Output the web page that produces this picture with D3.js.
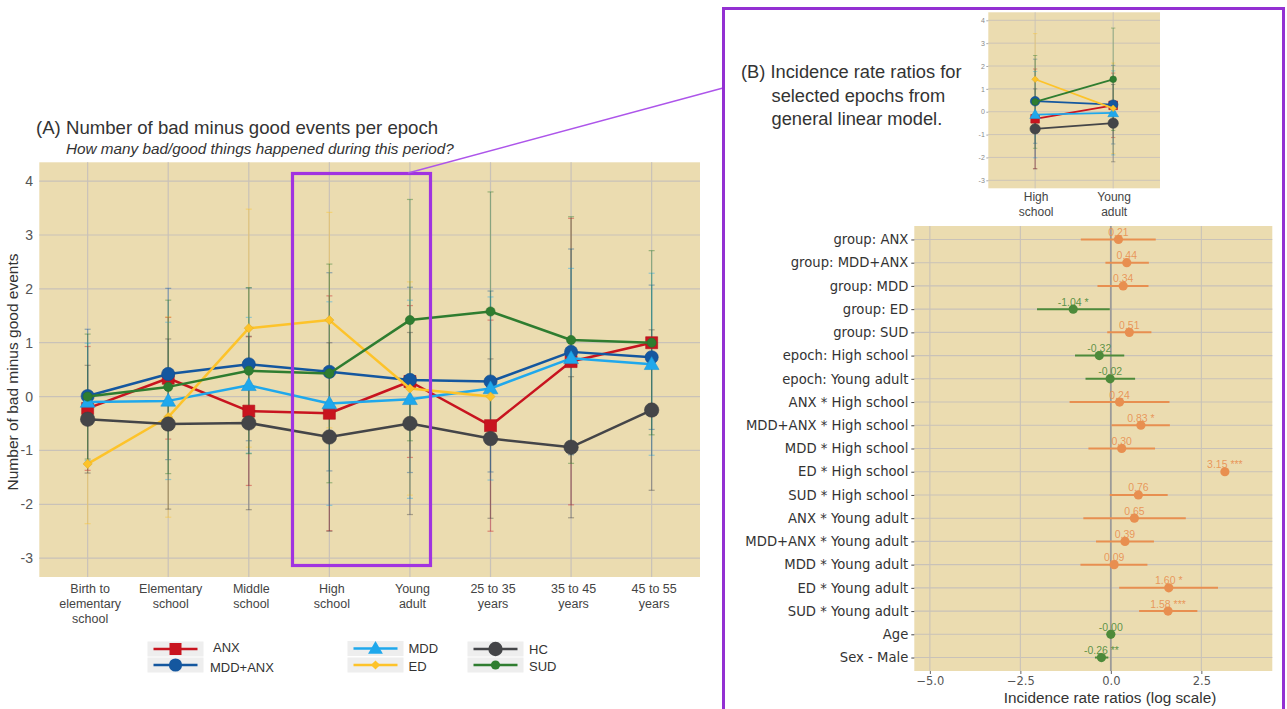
<!DOCTYPE html>
<html>
<head>
<meta charset="utf-8">
<script src="https://cdn.jsdelivr.net/npm/d3@7"></script>
<style>
  body { margin: 0; background: #ffffff; }
  svg { display: block; }
</style>
</head>
<body>
<svg id="chart" width="1287" height="709"></svg>
<script>
// ---------- Panel A data: mean (and SD) of bad minus good events per epoch ----------
const epochs = ["Birth to elementary school", "Elementary school", "Middle school", "High school",
                "Young adult", "25 to 35 years", "35 to 45 years", "45 to 55 years"];
const epochLabelLines = [["Birth to", "elementary", "school"], ["Elementary", "school"], ["Middle", "school"],
                         ["High", "school"], ["Young", "adult"], ["25 to 35", "years"], ["35 to 45", "years"],
                         ["45 to 55", "years"]];
const groups = ["ANX", "MDD+ANX", "MDD", "ED", "HC", "SUD"];
const yTicks = [-3, -2, -1, 0, 1, 2, 3, 4];

const meanANX    = [-0.22, 0.34, -0.27, -0.31, 0.28, -0.54, 0.65, 1.00];
const sdANX      = [1.15, 1.13, 1.38, 2.18, 1.41, 1.96, 2.66, null];
const meanMDDANX = [0.01, 0.42, 0.60, 0.46, 0.31, 0.28, 0.83, 0.73];
const sdMDDANX   = [1.24, 1.59, 1.42, 1.84, 1.72, 1.68, 1.91, 1.34];
const meanMDD    = [-0.10, -0.08, 0.21, -0.13, -0.05, 0.15, 0.71, 0.60];
const sdMDD      = [1.09, 1.46, 1.26, 1.89, 1.84, 1.70, 1.67, 1.69];
const meanED     = [-1.25, -0.38, 1.27, 1.42, 0.15, 0.00, null, null];
const sdED       = [1.11, 1.86, 2.21, 2.00, 1.98, null, null, null];
const meanHC     = [-0.42, -0.51, -0.49, -0.75, -0.50, -0.78, -0.94, -0.25];
const sdHC       = [1.00, 1.58, 1.61, 1.75, 1.69, 1.48, 1.31, 1.49];
const meanSUD    = [0.00, 0.18, 0.48, 0.43, 1.42, 1.58, 1.05, 1.00];
const sdSUD      = [1.16, 1.61, 1.54, 2.03, 2.24, 2.22, 2.29, 1.71];

// ---------- Panel B data: model coefficients (log IRR) with 95% CI ----------
const termLabels = ["group: ANX", "group: MDD+ANX", "group: MDD", "group: ED", "group: SUD",
  "epoch: High school", "epoch: Young adult", "ANX * High school", "MDD+ANX * High school",
  "MDD * High school", "ED * High school", "SUD * High school", "ANX * Young adult",
  "MDD+ANX * Young adult", "MDD * Young adult", "ED * Young adult", "SUD * Young adult",
  "Age", "Sex - Male"];
const termEstimate = [0.21, 0.44, 0.34, -1.04, 0.51, -0.32, -0.02, 0.24, 0.83, 0.30, 3.15, 0.76,
                      0.65, 0.39, 0.09, 1.60, 1.58, -0.001, -0.26];
const termLow  = [-0.83, -0.15, -0.37, -2.04, -0.10, -0.99, -0.70, -1.14, 0.02, -0.62, null, -0.03,
                  -0.76, -0.41, -0.84, 0.23, 0.78, -0.03, -0.44];
const termHigh = [1.24, 1.05, 1.04, -0.03, 1.12, 0.37, 0.67, 1.62, 1.63, 1.22, null, 1.57,
                  2.07, 1.19, 1.01, 2.96, 2.39, 0.03, -0.07];
const termStars = ["", "", "", " *", "", "", "", "", " *", "", " ***", "", "", "", "", " *", " ***", "", " **"];
const irrTicks = [-5, -2.5, 0, 2.5];

// ---------- styling ----------
const BG = "#ebdcb0";
const GRID = "#c9c2b8";
const FONT = "'Liberation Sans', Arial, sans-serif";
const groupColor = { "ANX": "#c8141f", "MDD+ANX": "#14579f", "MDD": "#1fa8ec", "ED": "#fdc32a", "HC": "#444548", "SUD": "#2f7d30" };
const groupShape = { "ANX": "square", "MDD+ANX": "circle", "MDD": "triangle", "ED": "diamond", "HC": "circle", "SUD": "circle" };
const groupSize  = { "ANX": 6, "MDD+ANX": 6.6, "MDD": 6.6, "ED": 4.6, "HC": 7.2, "SUD": 4.6 };
const POS = "#e88f50", NEG = "#4d8a3a";
const plainInt = d => String(d);

const means = [meanANX, meanMDDANX, meanMDD, meanED, meanHC, meanSUD];
const sds = [sdANX, sdMDDANX, sdMDD, sdED, sdHC, sdSUD];
const series = groups.map((g, i) => ({ name: g, mean: means[i], sd: sds[i] }));

const svg = d3.select("#chart");
svg.append("rect").attr("width", 1287).attr("height", 709).attr("fill", "#ffffff");

function markerPath(shape, r) {
  if (shape === "square") return `M${-r},${-r}h${2 * r}v${2 * r}h${-2 * r}Z`;
  if (shape === "triangle") return `M0,${-r * 1.15}L${r * 1.12},${r * 0.8}L${-r * 1.12},${r * 0.8}Z`;
  if (shape === "diamond") return `M0,${-r}L${r},0L0,${r}L${-r},0Z`;
  return d3.symbol(d3.symbolCircle, Math.PI * r * r)();
}

// Draws the grouped line chart (error bars, lines, markers) for a subset of epochs
function drawGroups(layer, x, y, idx, k) {
  const eb = layer.append("g");
  series.forEach(s => {
    idx.forEach(i => {
      const m = s.mean[i], sd = s.sd[i];
      if (m == null || sd == null) return;
      const cx = x(epochs[i]);
      const g = eb.append("g").attr("stroke", groupColor[s.name]).attr("stroke-opacity", 0.42)
        .attr("stroke-width", 1.2 * Math.max(k, 0.8));
      g.append("line").attr("x1", cx).attr("x2", cx).attr("y1", y(m - sd)).attr("y2", y(m + sd));
      [m - sd, m + sd].forEach(v => g.append("line")
        .attr("x1", cx - 3 * k).attr("x2", cx + 3 * k).attr("y1", y(v)).attr("y2", y(v)));
    });
  });
  series.forEach(s => {
    const pts = idx.filter(i => s.mean[i] != null).map(i => [x(epochs[i]), y(s.mean[i])]);
    layer.append("path").attr("d", d3.line()(pts)).attr("fill", "none")
      .attr("stroke", groupColor[s.name]).attr("stroke-width", 2.5 * k).attr("stroke-linejoin", "round");
    layer.append("g").selectAll("path").data(pts).join("path")
      .attr("transform", d => `translate(${d[0]},${d[1]})`)
      .attr("d", markerPath(groupShape[s.name], groupSize[s.name] * k))
      .attr("fill", groupColor[s.name])
      .attr("stroke", d3.color(groupColor[s.name]).darker(0.3)).attr("stroke-width", 0.6);
  });
}

// ================= Panel A =================
const xA = d3.scalePoint().domain(epochs).range([39.3, 700]).padding(0.6);
const yA = d3.scaleLinear().domain([-3.35, 4.35]).range([577, 162.3]);
const gA = svg.append("g");
gA.append("rect").attr("x", 39.3).attr("y", 162.3).attr("width", 700 - 39.3).attr("height", 577 - 162.3).attr("fill", BG);
gA.append("g").selectAll("line").data(yTicks).join("line")
  .attr("x1", 39.3).attr("x2", 700).attr("y1", d => yA(d)).attr("y2", d => yA(d))
  .attr("stroke", GRID).attr("stroke-width", 1.2);
gA.append("g").selectAll("line").data(epochs).join("line")
  .attr("x1", d => xA(d)).attr("x2", d => xA(d)).attr("y1", 162.3).attr("y2", 577)
  .attr("stroke", GRID).attr("stroke-width", 1.2);

const axA = gA.append("g").attr("transform", "translate(33,0)")
  .call(d3.axisLeft(yA).tickValues(yTicks).tickSize(0).tickPadding(0).tickFormat(plainInt));
axA.select(".domain").remove();
axA.selectAll("text").attr("font-family", FONT).attr("font-size", 14).attr("fill", "#555");

const axAx = gA.append("g").attr("transform", "translate(0,577)")
  .call(d3.axisBottom(xA).tickSize(0).tickFormat(""));
axAx.select(".domain").remove();
axAx.selectAll(".tick").each(function (d, i) {
  const t = d3.select(this).append("text").attr("font-family", FONT).attr("font-size", 12.5)
    .attr("fill", "#444").attr("text-anchor", "middle");
  epochLabelLines[i].forEach((ln, j) => t.append("tspan").attr("x", 2).attr("y", 15.5 + j * 15.3).text(ln));
});

gA.append("text").attr("transform", "translate(18,372) rotate(-90)").attr("text-anchor", "middle")
  .attr("font-family", FONT).attr("font-size", 15.5).attr("fill", "#333").text("Number of bad minus good events");

drawGroups(gA.append("g"), xA, yA, d3.range(epochs.length), 1);

gA.append("text").attr("x", 36).attr("y", 134).attr("font-family", FONT).attr("font-size", 18.6)
  .attr("fill", "#333").text("(A) Number of bad minus good events per epoch");
gA.append("text").attr("x", 66).attr("y", 154).attr("font-family", FONT).attr("font-size", 15.3)
  .attr("font-style", "italic").attr("fill", "#333").text("How many bad/good things happened during this period?");

// highlight box around the epochs shown in panel B
gA.append("rect").attr("x", 292.5).attr("y", 173.5).attr("width", 138).attr("height", 392)
  .attr("fill", "none").attr("stroke", "#a133e0").attr("stroke-width", 3.2);
svg.append("line").attr("x1", 408).attr("y1", 173).attr("x2", 723).attr("y2", 88)
  .attr("stroke", "#ad55ea").attr("stroke-width", 1.4);

// legend
const legendItems = [
  { name: "ANX", x: 147.5, y: 641.5, tx: 213, ty: 647 },
  { name: "MDD+ANX", x: 147.5, y: 657.5, tx: 210, ty: 667 },
  { name: "MDD", x: 347.5, y: 641, tx: 408.5, ty: 648.5 },
  { name: "ED", x: 347.5, y: 657.5, tx: 408.5, ty: 666.5 },
  { name: "HC", x: 467.5, y: 641.5, tx: 529, ty: 649.5 },
  { name: "SUD", x: 467.5, y: 657.5, tx: 529, ty: 666.5 }
];
const lg = svg.append("g");
legendItems.forEach(it => {
  const w = 56, h = 15, cy = it.y + h / 2;
  lg.append("rect").attr("x", it.x).attr("y", it.y).attr("width", w).attr("height", h).attr("fill", "#eeeeee");
  lg.append("line").attr("x1", it.x + 6).attr("x2", it.x + w - 6).attr("y1", cy).attr("y2", cy)
    .attr("stroke", groupColor[it.name]).attr("stroke-width", 2.4);
  lg.append("path").attr("transform", `translate(${it.x + w / 2},${cy})`)
    .attr("d", markerPath(groupShape[it.name], groupSize[it.name])).attr("fill", groupColor[it.name]);
  lg.append("text").attr("x", it.tx).attr("y", it.ty).attr("dy", "0.35em").attr("font-family", FONT)
    .attr("font-size", 13).attr("fill", "#333").text(it.name);
});

// ================= Panel B =================
svg.append("rect").attr("x", 723.5).attr("y", 8.5).attr("width", 560).attr("height", 720)
  .attr("fill", "none").attr("stroke", "#9330d2").attr("stroke-width", 3);

const titleB = svg.append("text").attr("font-family", FONT).attr("font-size", 18.3).attr("fill", "#333");
[["(B) Incidence rate ratios for", 741, 78], ["selected epochs from", 771.5, 101.5], ["general linear model.", 771.5, 124.5]]
  .forEach(([t, x, y]) => titleB.append("tspan").attr("x", x).attr("y", y).text(t));

// inset: the two highlighted epochs
const hsIdx = [3, 4];
const xI = d3.scalePoint().domain(hsIdx.map(i => epochs[i])).range([988.3, 1160]).padding(0.6);
const yI = d3.scaleLinear().domain([-3.35, 4.35]).range([188.3, 12.3]);
const gI = svg.append("g");
gI.append("rect").attr("x", 988.3).attr("y", 12.3).attr("width", 1160 - 988.3).attr("height", 176).attr("fill", BG);
gI.append("g").selectAll("line").data(yTicks).join("line")
  .attr("x1", 988.3).attr("x2", 1160).attr("y1", d => yI(d)).attr("y2", d => yI(d))
  .attr("stroke", GRID).attr("stroke-width", 0.9);
gI.append("g").selectAll("line").data(xI.domain()).join("line")
  .attr("x1", d => xI(d)).attr("x2", d => xI(d)).attr("y1", 12.3).attr("y2", 188.3)
  .attr("stroke", GRID).attr("stroke-width", 0.9);
const axI = gI.append("g").attr("transform", "translate(988.3,0)")
  .call(d3.axisLeft(yI).tickValues(yTicks).tickSize(2).tickPadding(1.5).tickFormat(plainInt));
axI.select(".domain").remove();
axI.selectAll("line").attr("stroke", "#aaa");
axI.selectAll("text").attr("font-family", FONT).attr("font-size", 7).attr("fill", "#888");
hsIdx.forEach(i => {
  const t = gI.append("text").attr("text-anchor", "middle").attr("font-family", FONT)
    .attr("font-size", 12).attr("fill", "#444");
  epochLabelLines[i].forEach((ln, j) => t.append("tspan").attr("x", xI(epochs[i]) + 1).attr("y", 201 + j * 15).text(ln));
});
drawGroups(gI.append("g"), xI, yI, hsIdx, 0.72);

// forest plot of coefficients
const xF = d3.scaleLinear().domain([-5.43, 4.46]).range([914.3, 1272.3]);
const yF = d3.scalePoint().domain(termLabels).range([226, 671]).padding(0.58);
const gF = svg.append("g");
gF.append("rect").attr("x", 914.3).attr("y", 226).attr("width", 1272.3 - 914.3).attr("height", 671 - 226).attr("fill", BG);
gF.append("g").selectAll("line").data(termLabels).join("line")
  .attr("x1", 914.3).attr("x2", 1272.3).attr("y1", d => yF(d)).attr("y2", d => yF(d))
  .attr("stroke", GRID).attr("stroke-width", 1.1);
gF.append("g").selectAll("line").data(irrTicks.filter(d => d !== 0)).join("line")
  .attr("x1", d => xF(d)).attr("x2", d => xF(d)).attr("y1", 226).attr("y2", 671)
  .attr("stroke", GRID).attr("stroke-width", 1.1);
gF.append("line").attr("x1", xF(0)).attr("x2", xF(0)).attr("y1", 226).attr("y2", 671)
  .attr("stroke", "#9c9a98").attr("stroke-width", 1.8);

const axFy = gF.append("g").attr("transform", "translate(914.3,0)")
  .call(d3.axisLeft(yF).tickSize(3).tickPadding(3));
axFy.select(".domain").remove();
axFy.selectAll("line").attr("stroke", "#444");
axFy.selectAll("text").attr("font-family", "'DejaVu Sans', sans-serif").attr("font-size", 13.2).attr("fill", "#333");

const axFx = gF.append("g").attr("transform", "translate(0,671)")
  .call(d3.axisBottom(xF).tickValues(irrTicks).tickSize(3).tickPadding(3).tickFormat(d3.format(".1f")));
axFx.select(".domain").remove();
axFx.selectAll("line").attr("stroke", "#666");
axFx.selectAll("text").attr("font-family", "'DejaVu Sans', sans-serif").attr("font-size", 11.5).attr("fill", "#555");
gF.append("text").attr("x", 1110).attr("y", 703).attr("text-anchor", "middle").attr("font-family", FONT)
  .attr("font-size", 15.3).attr("fill", "#333").text("Incidence rate ratios (log scale)");

termLabels.forEach((lab, i) => {
  const est = termEstimate[i], col = est > 0 ? POS : NEG, cy = yF(lab);
  if (termLow[i] != null && termHigh[i] != null) {
    gF.append("line").attr("x1", xF(termLow[i])).attr("x2", xF(termHigh[i])).attr("y1", cy).attr("y2", cy)
      .attr("stroke", col).attr("stroke-width", 2);
  }
  gF.append("circle").attr("cx", xF(est)).attr("cy", cy).attr("r", 4.6).attr("fill", col);
  gF.append("text").attr("x", xF(est)).attr("y", cy - 3.5).attr("text-anchor", "middle")
    .attr("font-family", FONT).attr("font-size", 10.5).attr("fill", col).attr("fill-opacity", 0.9)
    .text(est.toFixed(2) + termStars[i]);
});
</script>
</body>
</html>
